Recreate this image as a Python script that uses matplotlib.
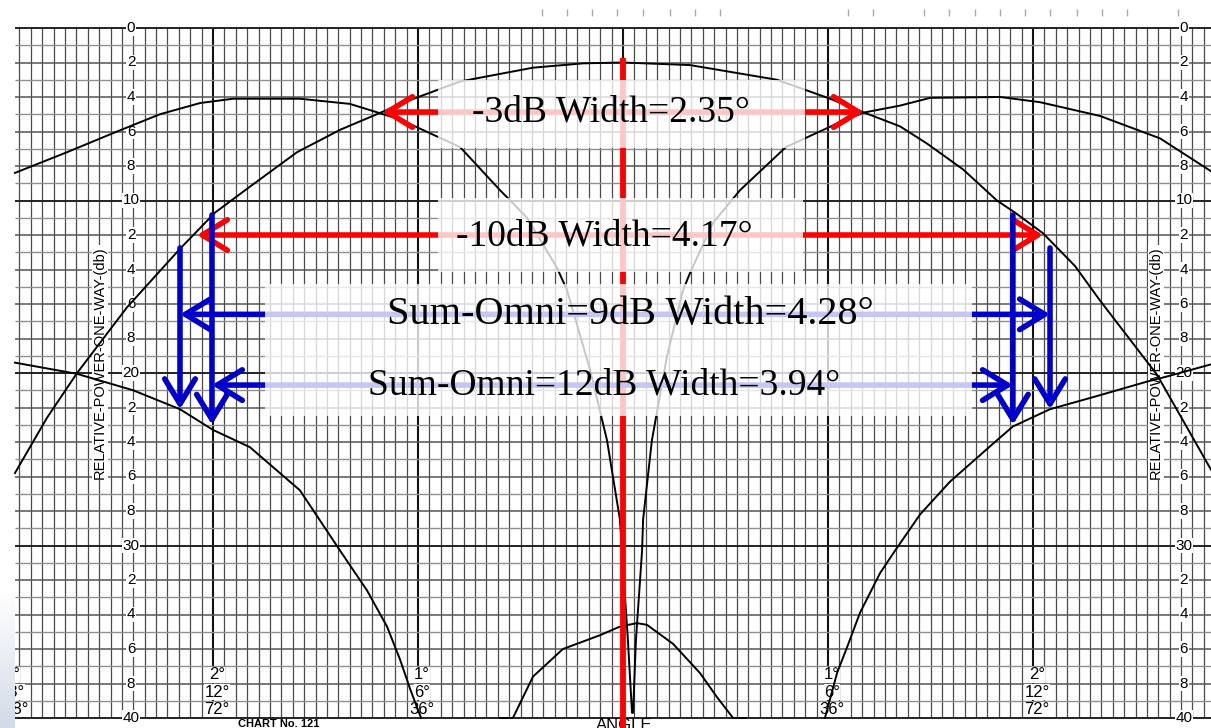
import matplotlib.pyplot as plt
import numpy as np
from matplotlib.patches import Rectangle

# curves: angle in degrees, level in dB below peak
sum_deg = [-2.966, -2.810, -2.663, -2.420, -2.161, -1.990, -1.820, -1.590, -1.380, -1.161,
           -1.088, -0.795, -0.439, -0.195, 0.0, 0.327, 0.751, 1.010, 1.176, 1.351,
           1.483, 1.659, 1.824, 1.912, 2.049, 2.205, 2.327, 2.605, 2.868]
sum_db = [25.8, 22.6, 20.0, 16.2, 12.8, 10.7, 9.2, 7.2, 5.9, 4.8,
          4.4, 3.1, 2.3, 2.05, 2.0, 2.15, 3.0, 4.1, 4.9, 5.7,
          6.7, 8.2, 10.0, 10.7, 11.9, 13.8, 15.8, 20.1, 25.6]

omni_deg = [-2.966, -2.712, -2.468, -2.259, -2.063, -1.902, -1.576, -1.332, -1.088, -0.795,
            -0.600, -0.468, -0.322, -0.273, -0.161, -0.078, -0.015, -0.005, 0.024, 0.044,
            0.049, 0.063, 0.093, 0.098, 0.141, 0.215, 0.293, 0.327, 0.439, 0.571,
            0.795, 1.088, 1.176, 1.351, 1.498, 1.839, 2.034, 2.327, 2.620, 2.868]
omni_db = [8.4, 7.2, 6.0, 5.0, 4.35, 4.1, 4.1, 4.4, 5.3, 6.9,
           9.4, 11.0, 13.9, 15.2, 19.8, 23.9, 28.5, 30.3, 35.5, 39.7,
           39.7, 35.5, 30.3, 28.5, 23.9, 19.0, 15.2, 14.2, 11.3, 9.4,
           6.9, 5.3, 4.9, 4.5, 4.05, 4.0, 4.3, 5.1, 6.4, 8.3]

low_left_deg = [-2.966, -2.663, -2.390, -2.161, -2.000, -1.820, -1.576, -1.380, -1.249, -1.151,
                -1.088, -1.039, -0.985]
low_left_db = [19.4, 20.05, 21.0, 22.1, 23.3, 24.3, 26.8, 30.3, 32.6, 34.7,
               36.6, 38.3, 40.0]
low_right_deg = [0.985, 1.044, 1.093, 1.156, 1.254, 1.327, 1.449, 1.595, 1.824, 1.902,
                 2.083, 2.293, 2.556, 2.654, 2.868]
low_right_db = [40.0, 37.4, 35.9, 33.9, 31.6, 30.3, 28.2, 26.3, 23.9, 23.1,
                22.1, 21.4, 20.5, 20.2, 19.5]

bump_deg = [-0.600, -0.537, -0.439, -0.293, -0.112, -0.015, 0.068, 0.117, 0.244, 0.376,
            0.459, 0.537, 0.600]
bump_db = [40.0, 40.0, 37.6, 36.0, 35.2, 34.7, 34.5, 34.6, 35.7, 37.4,
           38.8, 40.0, 40.0]

db_labels = ['0', '2', '4', '6', '8', '10', '2', '4', '6', '8', '20',
             '2', '4', '6', '8', '30', '2', '4', '6', '8', '40']
angle_pos = [-3, -2, -1, 1, 2]
angle_rows = [['3°', '18°', '108°'], ['2°', '12°', '72°'], ['1°', '6°', '36°'],
              ['1°', '6°', '36°'], ['2°', '12°', '72°']]
top_ticks = [-0.395, -0.273, -0.151, -0.029, 0.098, 0.229, 0.351, 0.473, 1.098, 1.220,
             1.468, 1.590, 1.717, 1.839, 1.961, 2.083, 2.215, 2.337, 2.459, 2.707]

# annotation levels / ends
w3_db, w3_ends = 4.87, (-1.175, 1.175)
w10_db, w10_ends = 12.0, (-2.078, 2.049)
so9_db, so9_ends = 16.6, (-2.161, 2.083)
so12_db, so12_ends = 20.7, (-2.005, 1.902)

PX_DEG = 205.0
PX_DB = 17.25
X0, Y0 = 623.0, 28.0
W, H = 1211, 728

fig = plt.figure(figsize=(W / 100, H / 100), dpi=100)
ax = fig.add_axes([0, 0, 1, 1])
ax.set_xlim(-X0 / PX_DEG, (W - X0) / PX_DEG)
ax.set_ylim((H - Y0) / PX_DB, -Y0 / PX_DB)
ax.axis('off')

gx0 = (15 - X0) / PX_DEG
gx1 = (W - X0) / PX_DEG

# chart paper grid
for k in range(-54, 53):
    x = k / 18.0
    if x < gx0:
        continue
    if k % 18 == 0:
        ax.vlines(x, 0, 40, color='#111111', lw=1.5, zorder=1)
    else:
        ax.vlines(x, 0, 40, color='#4a4a4a', lw=0.9, zorder=1)
for d in range(0, 41):
    if d % 10 == 0:
        ax.hlines(d, gx0, gx1, color='#222222', lw=1.4, zorder=1)
    elif d % 2 == 0:
        ax.hlines(d, gx0, gx1, color='#555555', lw=1.1, zorder=1)
    else:
        ax.hlines(d, gx0, gx1, color='#8f8f8f', lw=1.0, zorder=1)

for t in top_ticks:
    ax.vlines(t, -1.1, -0.7, color='#aaaaaa', lw=1.0, zorder=1)

lab_font = dict(family='Liberation Sans', fontsize=11, ha='center', va='center', zorder=2,
                bbox=dict(boxstyle='square,pad=0.06', fc='white', ec='none'))
for i, s in enumerate(db_labels):
    ax.text((131 - X0) / PX_DEG, 2 * i, s, **lab_font)
    ax.text((1184 - X0) / PX_DEG, 2 * i, s, **lab_font)

for xl in [(100 - X0) / PX_DEG, (1156 - X0) / PX_DEG]:
    ax.text(xl, 19.4, 'RELATIVE-POWER-ONE-WAY-(db)', rotation=90, family='Liberation Sans',
            fontsize=10.5, ha='center', va='center', zorder=2,
            bbox=dict(boxstyle='square,pad=0.1', fc='white', ec='none'))

for xp, rows in zip(angle_pos, angle_rows):
    for j, s in enumerate(rows):
        ax.text(xp + 0.02, 37.5 + j, s, family='Liberation Sans', fontsize=12, ha='center',
                va='center', zorder=2,
                bbox=dict(boxstyle='square,pad=0.02', fc='white', ec='none'))

ax.text((279 - X0) / PX_DEG, 40.35, 'CHART No. 121', family='Liberation Sans', fontsize=8,
        fontweight='bold', ha='center', va='center')
ax.text(0.005, 40.02, 'ANGLE', family='Liberation Sans', fontsize=12, ha='center', va='top')

# measured patterns
for xs, ys in [(sum_deg, sum_db), (omni_deg, omni_db), (low_left_deg, low_left_db),
               (low_right_deg, low_right_db), (bump_deg, bump_db)]:
    ax.plot(xs, ys, color='black', lw=1.4, zorder=2, solid_joinstyle='round')

# corner of the slide background
grad = np.linspace(0, 1, 50).reshape(-1, 1)
ax.imshow(grad, cmap=plt.matplotlib.colors.LinearSegmentedColormap.from_list(
    'c', ['#ffffff', '#d3dbe9']), extent=[-X0 / PX_DEG, gx0, (H - Y0) / PX_DB, (590 - Y0) / PX_DB],
    aspect='auto', zorder=6)


def arrow(x0, y0, x1, y1, color):
    ax.annotate('', xy=(x1, y1), xytext=(x0, y0), zorder=3,
                arrowprops=dict(arrowstyle='->,head_length=0.9,head_width=0.55', lw=4,
                                color=color, shrinkA=0, shrinkB=0, mutation_scale=20))


RED = '#ff0000'
BLUE = '#0000cc'

ax.plot([0, 0], [1.74, 41], color=RED, lw=4.2, zorder=3, solid_capstyle='butt')
for lvl, ends in [(w3_db, w3_ends), (w10_db, w10_ends)]:
    for e in ends:
        arrow(0, lvl, e, lvl, RED)
for lvl, ends in [(so9_db, so9_ends), (so12_db, so12_ends)]:
    for e in ends:
        arrow(0, lvl, e, lvl, BLUE)

arrow(so9_ends[0], 12.75, so9_ends[0], 22.1, BLUE)
arrow(so12_ends[0], 10.84, so12_ends[0], 23.0, BLUE)
arrow(so12_ends[1], 10.84, so12_ends[1], 23.0, BLUE)
arrow(so9_ends[1], 12.75, so9_ends[1], 22.1, BLUE)

# translucent label boxes
for (px0, px1, py0, py1) in [(438, 805, 80, 148), (438, 803, 198, 272), (265, 972, 284, 416)]:
    ax.add_patch(Rectangle(((px0 - X0) / PX_DEG, (py0 - Y0) / PX_DB),
                           (px1 - px0) / PX_DEG, (py1 - py0) / PX_DB,
                           fc='white', ec='none', alpha=0.78, zorder=4))

txt = dict(family='Liberation Serif', ha='center', va='center', zorder=5)
ax.text(-0.06, w3_db, '-3dB Width=2.35°', fontsize=27, **txt)
ax.text(-0.09, w10_db + 0.1, '-10dB Width=4.17°', fontsize=27, **txt)
ax.text(0.035, so9_db, 'Sum-Omni=9dB Width=4.28°', fontsize=29, **txt)
ax.text(-0.09, so12_db, 'Sum-Omni=12dB Width=3.94°', fontsize=27, **txt)

fig.savefig('out.png', dpi=100)
